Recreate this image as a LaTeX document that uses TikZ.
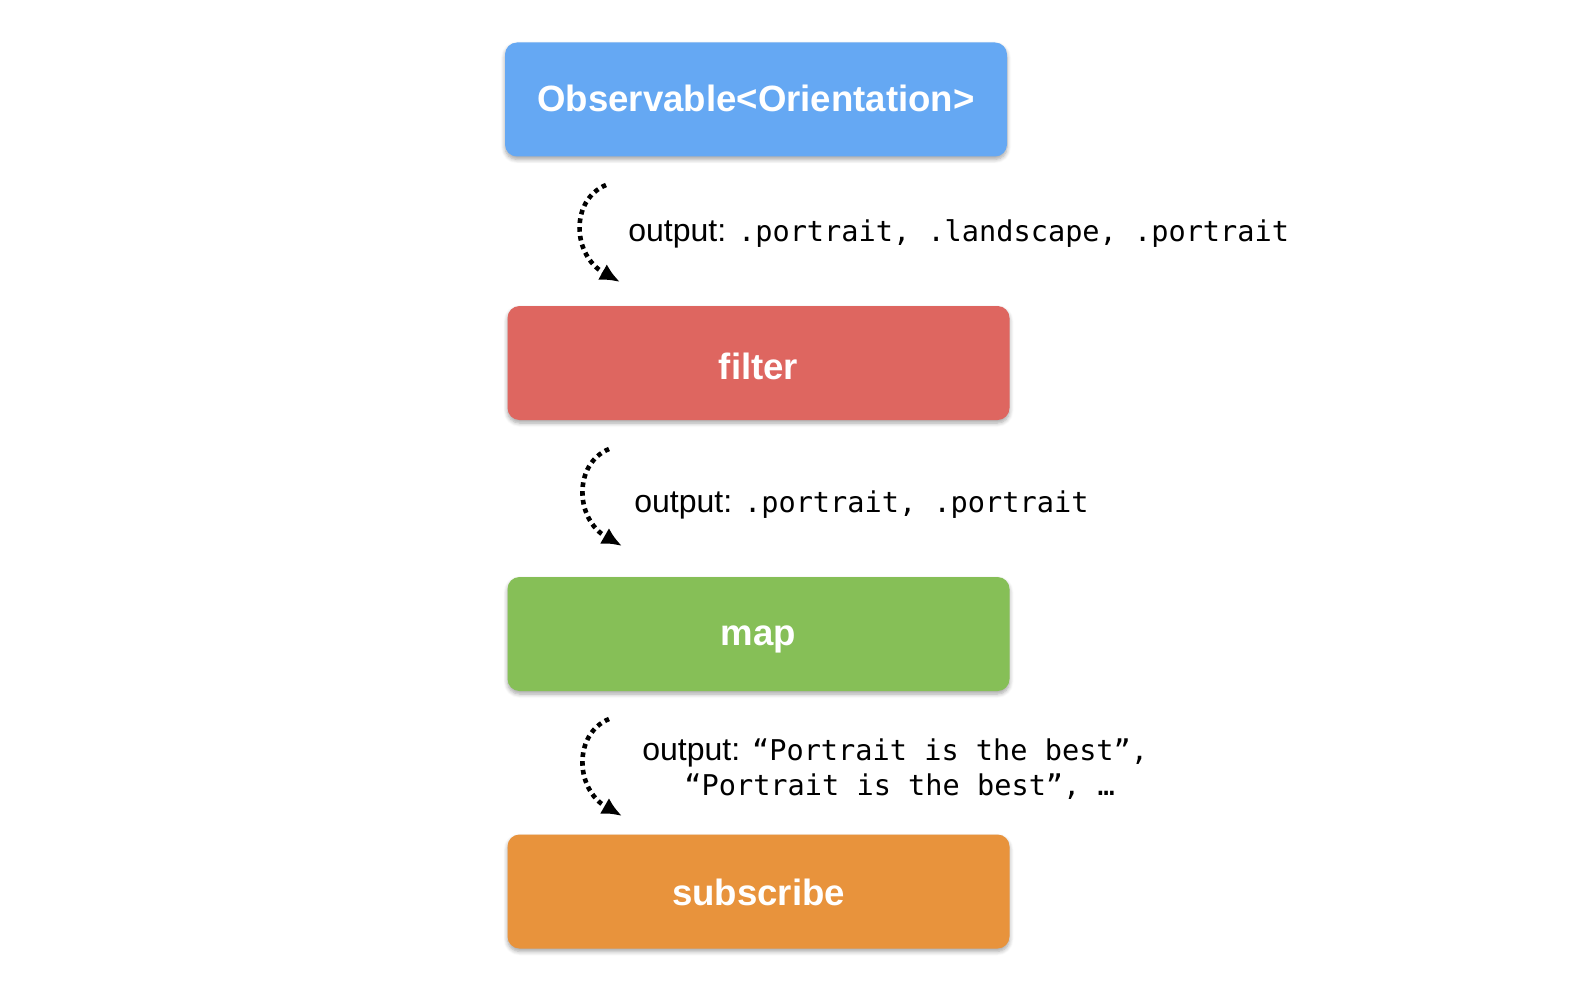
\documentclass[tikz,border=0pt]{standalone}
\usepackage{fontspec}
\setmainfont{Liberation Sans}
\newfontfamily\codefont{DejaVu Sans Mono}
\usetikzlibrary{arrows.meta,shadows.blur}
\definecolor{cblue}{HTML}{65A8F3}
\definecolor{cred}{HTML}{DE6660}
\definecolor{cgreen}{HTML}{86BF57}
\definecolor{corange}{HTML}{E8933C}
\tikzset{
  opbox/.style={draw=none, rounded corners=6pt, minimum width=251pt, minimum height=57pt,
    text=white, font=\fontsize{18.3}{22}\selectfont\bfseries, inner sep=0pt, text depth=0pt,
    blur shadow={shadow xshift=0pt, shadow yshift=-1.5pt, shadow blur steps=6, shadow opacity=35, shadow blur radius=2pt}},
  flow/.style={line width=2.3pt, dash pattern=on 2.3pt off 2.1pt, -{Latex[length=10pt,width=9pt]}},
  lbl/.style={anchor=west, inner sep=0pt, font=\fontsize{16}{19}\selectfont},
}
\newcommand{\cd}[1]{{\codefont\fontsize{14.3}{19}\selectfont #1}}
\begin{document}
\begin{tikzpicture}[x=0.5pt,y=-0.5pt]
\useasboundingbox (0,0) rectangle (1584,1000);
\node[opbox, fill=cblue, text height=12.5pt] (obs) at (756,99.5) {Observable<Orientation>};
\node[opbox, fill=cred, text height=16pt] (filter) at (758.5,363) {filter};
\node[opbox, fill=cgreen, text height=11pt] (map) at (758.5,634) {map};
\node[opbox, fill=corange, text height=13.5pt] (sub) at (758.5,891.5) {subscribe};

\coordinate (s1) at (606,185);
\coordinate (e1) at (620,282);
\coordinate (s2) at (609,449);
\coordinate (e2) at (622,546);
\coordinate (s3) at (609,719);
\coordinate (e3) at (622,816);

\draw[flow] (s1) .. controls (570,200) and (572,255) .. (e1);
\draw[flow] (s2) .. controls (573,464) and (575,519) .. (e2);
\draw[flow] (s3) .. controls (573,734) and (575,789) .. (e3);

\node[lbl] (l1) at (628,234) {output: \cd{.portrait, .landscape, .portrait}};
\node[lbl] (l2) at (634,505) {output: \cd{.portrait, .portrait}};
\node[lbl] (l3a) at (642,753) {output: \cd{“Portrait is the best”,}};
\node[lbl] (l3b) at (684,787) {\cd{“Portrait is the best”, …}};
\end{tikzpicture}
\end{document}
